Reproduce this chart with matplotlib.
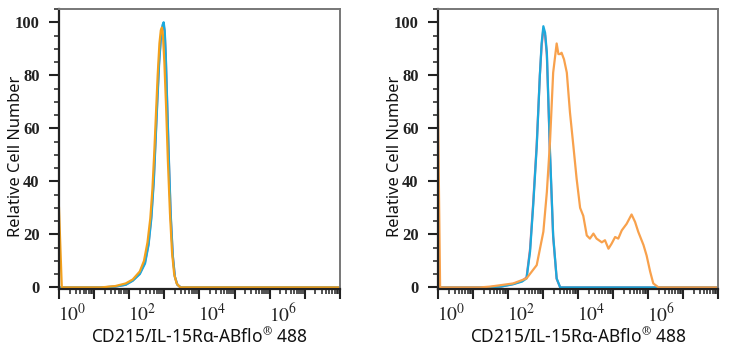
import matplotlib
matplotlib.use('Agg')
import matplotlib.pyplot as plt
import matplotlib.transforms as mtransforms
from matplotlib.ticker import LogLocator, MultipleLocator, FixedLocator, NullFormatter
import numpy as np

plt.rcParams['mathtext.fontset'] = 'stix'

# fluorescence intensity given as log10 values, counts as % of max
# -- left panel: all three curves overlap
L_ORANGE_LOG = [0.0, 0.08, 1.2, 1.6, 1.9, 2.1, 2.3, 2.42, 2.52, 2.6, 2.66, 2.71, 2.76, 2.81,
                2.86, 2.9, 2.93, 2.96, 3.0, 3.05, 3.1, 3.16, 3.22, 3.28, 3.35, 3.45, 4.0, 8.0]
L_ORANGE_Y = [30, 0, 0, 0.5, 1.5, 3, 6, 10, 17, 26, 37, 50, 65, 80,
              92, 97, 98, 95, 85, 68, 48, 28, 13, 5, 1.5, 0, 0, 0]
L_CYAN_LOG = [0.0, 0.05, 1.2, 1.6, 1.9, 2.1, 2.3, 2.45, 2.55, 2.63, 2.7, 2.75, 2.8, 2.85,
              2.9, 2.95, 2.98, 3.01, 3.04, 3.08, 3.13, 3.18, 3.24, 3.3, 3.37, 3.47, 4.0, 8.0]
L_CYAN_Y = [0, 0, 0, 0.3, 1, 2.5, 5, 9, 16, 26, 40, 55, 70, 84,
            94, 99, 100, 97, 88, 70, 48, 28, 12, 4, 1, 0, 0, 0]
L_RED_LOG = [0.0, 0.05, 1.2, 1.6, 1.9, 2.1, 2.3, 2.45, 2.55, 2.63, 2.7, 2.75, 2.8, 2.85,
             2.9, 2.95, 2.98, 3.01, 3.04, 3.08, 3.13, 3.18, 3.24, 3.3, 3.37, 3.47, 4.0, 8.0]
L_RED_Y = [0, 0, 0, 0.3, 1, 2.6, 5.2, 9.5, 16.5, 27, 41, 56, 71, 85,
           94, 98.5, 99, 96, 87, 69, 47, 27, 12, 4, 1, 0, 0, 0]

# -- right panel: isotype (cyan/red) vs. stained sample (orange)
R_CYAN_LOG = [0.0, 0.06, 1.3, 1.8, 2.15, 2.4, 2.53, 2.63, 2.72, 2.82, 2.91, 2.96, 3.01,
              3.06, 3.11, 3.2, 3.29, 3.39, 3.49, 4.0, 8.0]
R_CYAN_Y = [5, 0, 0, 0.3, 1.2, 2.2, 3.4, 13.5, 31, 53, 80, 92, 98.5,
            96, 88.6, 51, 19.6, 3.4, 0, 0, 0]
R_RED_LOG = [0.0, 0.06, 1.3, 1.8, 2.15, 2.4, 2.53, 2.63, 2.72, 2.82, 2.91, 2.96, 3.01,
             3.06, 3.11, 3.2, 3.29, 3.39, 3.49, 4.0, 8.0]
R_RED_Y = [3, 0, 0, 0.3, 1.3, 2.4, 3.8, 14.5, 32, 54, 80, 91, 97.5,
           95, 87.5, 50, 19, 3.2, 0, 0, 0]
R_ORANGE_LOG = [0.0, 0.06, 1.2, 1.49, 2.15, 2.53, 2.82, 3.01, 3.11, 3.2, 3.29, 3.39, 3.44,
                3.49, 3.53, 3.6, 3.68, 3.77, 3.87, 3.96, 4.06, 4.15, 4.25, 4.34, 4.44,
                4.53, 4.68, 4.77, 4.87, 4.96, 5.06, 5.15, 5.25, 5.39, 5.53, 5.63, 5.72,
                5.87, 5.96, 6.06, 6.15, 6.3, 8.0]
R_ORANGE_Y = [67, 0, 0, 0.3, 1.5, 3.4, 8.4, 21, 36, 55, 81, 92, 88,
              88, 88.5, 86, 81, 66, 53, 41, 30, 27, 19.6, 18.4, 20.3,
              18.4, 17, 17.8, 14.6, 16.5, 19, 18.4, 21.5, 24, 27.5, 24.7, 21,
              16, 12, 6, 1.5, 0, 0]

X_DECADES = list(range(0, 9))
X_LABELED = [0, 2, 4, 6]
Y_TICKS = [0, 20, 40, 60, 80, 100]

XLABEL = "CD215/IL-15R\u03b1-ABflo$^{\u00ae}$ 488"
YLABEL = "Relative Cell Number"

CYAN = '#1ca9dc'
RED = '#e06c86'
ORANGE_L = '#f4a11c'
ORANGE_R = '#f8a14c'


def style_axis(ax):
    ax.set_xscale('log')
    ax.set_xlim(1, 1e8)
    ax.set_ylim(-0.6, 105)
    ax.xaxis.set_major_locator(FixedLocator([10.0 ** d for d in X_DECADES]))
    ax.xaxis.set_minor_locator(LogLocator(base=10, subs=np.arange(2, 10), numticks=20))
    ax.xaxis.set_minor_formatter(NullFormatter())
    ax.set_xticklabels([])
    # decade labels sit a little to the right of their ticks
    shift = mtransforms.ScaledTranslation(0.13, 0, ax.figure.dpi_scale_trans)
    trans = mtransforms.blended_transform_factory(ax.transData, ax.transAxes) + shift
    for d in X_LABELED:
        ax.text(10.0 ** d, -0.05, f'$10^{{{d}}}$', transform=trans, ha='center', va='top',
                fontsize=14, color='#222222')
    ax.set_yticks(Y_TICKS)
    ax.yaxis.set_minor_locator(MultipleLocator(5))
    ax.set_yticklabels([str(v) for v in Y_TICKS], family='Liberation Serif',
                       fontsize=12, fontweight='bold', color='#222222')
    ax.tick_params(which='major', direction='out', length=7, width=1.5, color='#222222')
    ax.tick_params(which='minor', direction='out', length=3.5, width=1.1, color='#222222')
    ax.tick_params(axis='y', which='major', pad=7)
    for side in ['left', 'bottom']:
        ax.spines[side].set_color('#222222')
        ax.spines[side].set_linewidth(1.6)
    for side in ['top', 'right']:
        ax.spines[side].set_color('#777777')
        ax.spines[side].set_linewidth(1.4)
    ax.set_xlabel(XLABEL, family='Noto Sans', fontsize=12.5, color='#111111')
    ax.set_ylabel(YLABEL, family='Noto Sans', fontsize=11.8, color='#111111')
    ax.xaxis.set_label_coords(0.5, -0.135)
    ax.yaxis.set_label_coords(-0.125, 0.475)


fig = plt.figure(figsize=(7.3, 3.5), dpi=100)
fig.patch.set_facecolor('white')
ax1 = fig.add_axes([0.0808, 0.1743, 0.3849, 0.8])
ax2 = fig.add_axes([0.6, 0.1743, 0.3836, 0.8])

ax1.plot(10.0 ** np.array(L_RED_LOG), L_RED_Y, color=RED, lw=1.6)
ax1.plot(10.0 ** np.array(L_CYAN_LOG), L_CYAN_Y, color=CYAN, lw=1.6)
ax1.plot(10.0 ** np.array(L_ORANGE_LOG), L_ORANGE_Y, color=ORANGE_L, lw=1.6)

ax2.plot(10.0 ** np.array(R_RED_LOG), R_RED_Y, color=RED, lw=1.6)
ax2.plot(10.0 ** np.array(R_CYAN_LOG), R_CYAN_Y, color=CYAN, lw=1.6)
ax2.plot(10.0 ** np.array(R_ORANGE_LOG), R_ORANGE_Y, color=ORANGE_R, lw=1.6)

for ax in (ax1, ax2):
    style_axis(ax)

fig.savefig('out.png', dpi=100, facecolor='white')
